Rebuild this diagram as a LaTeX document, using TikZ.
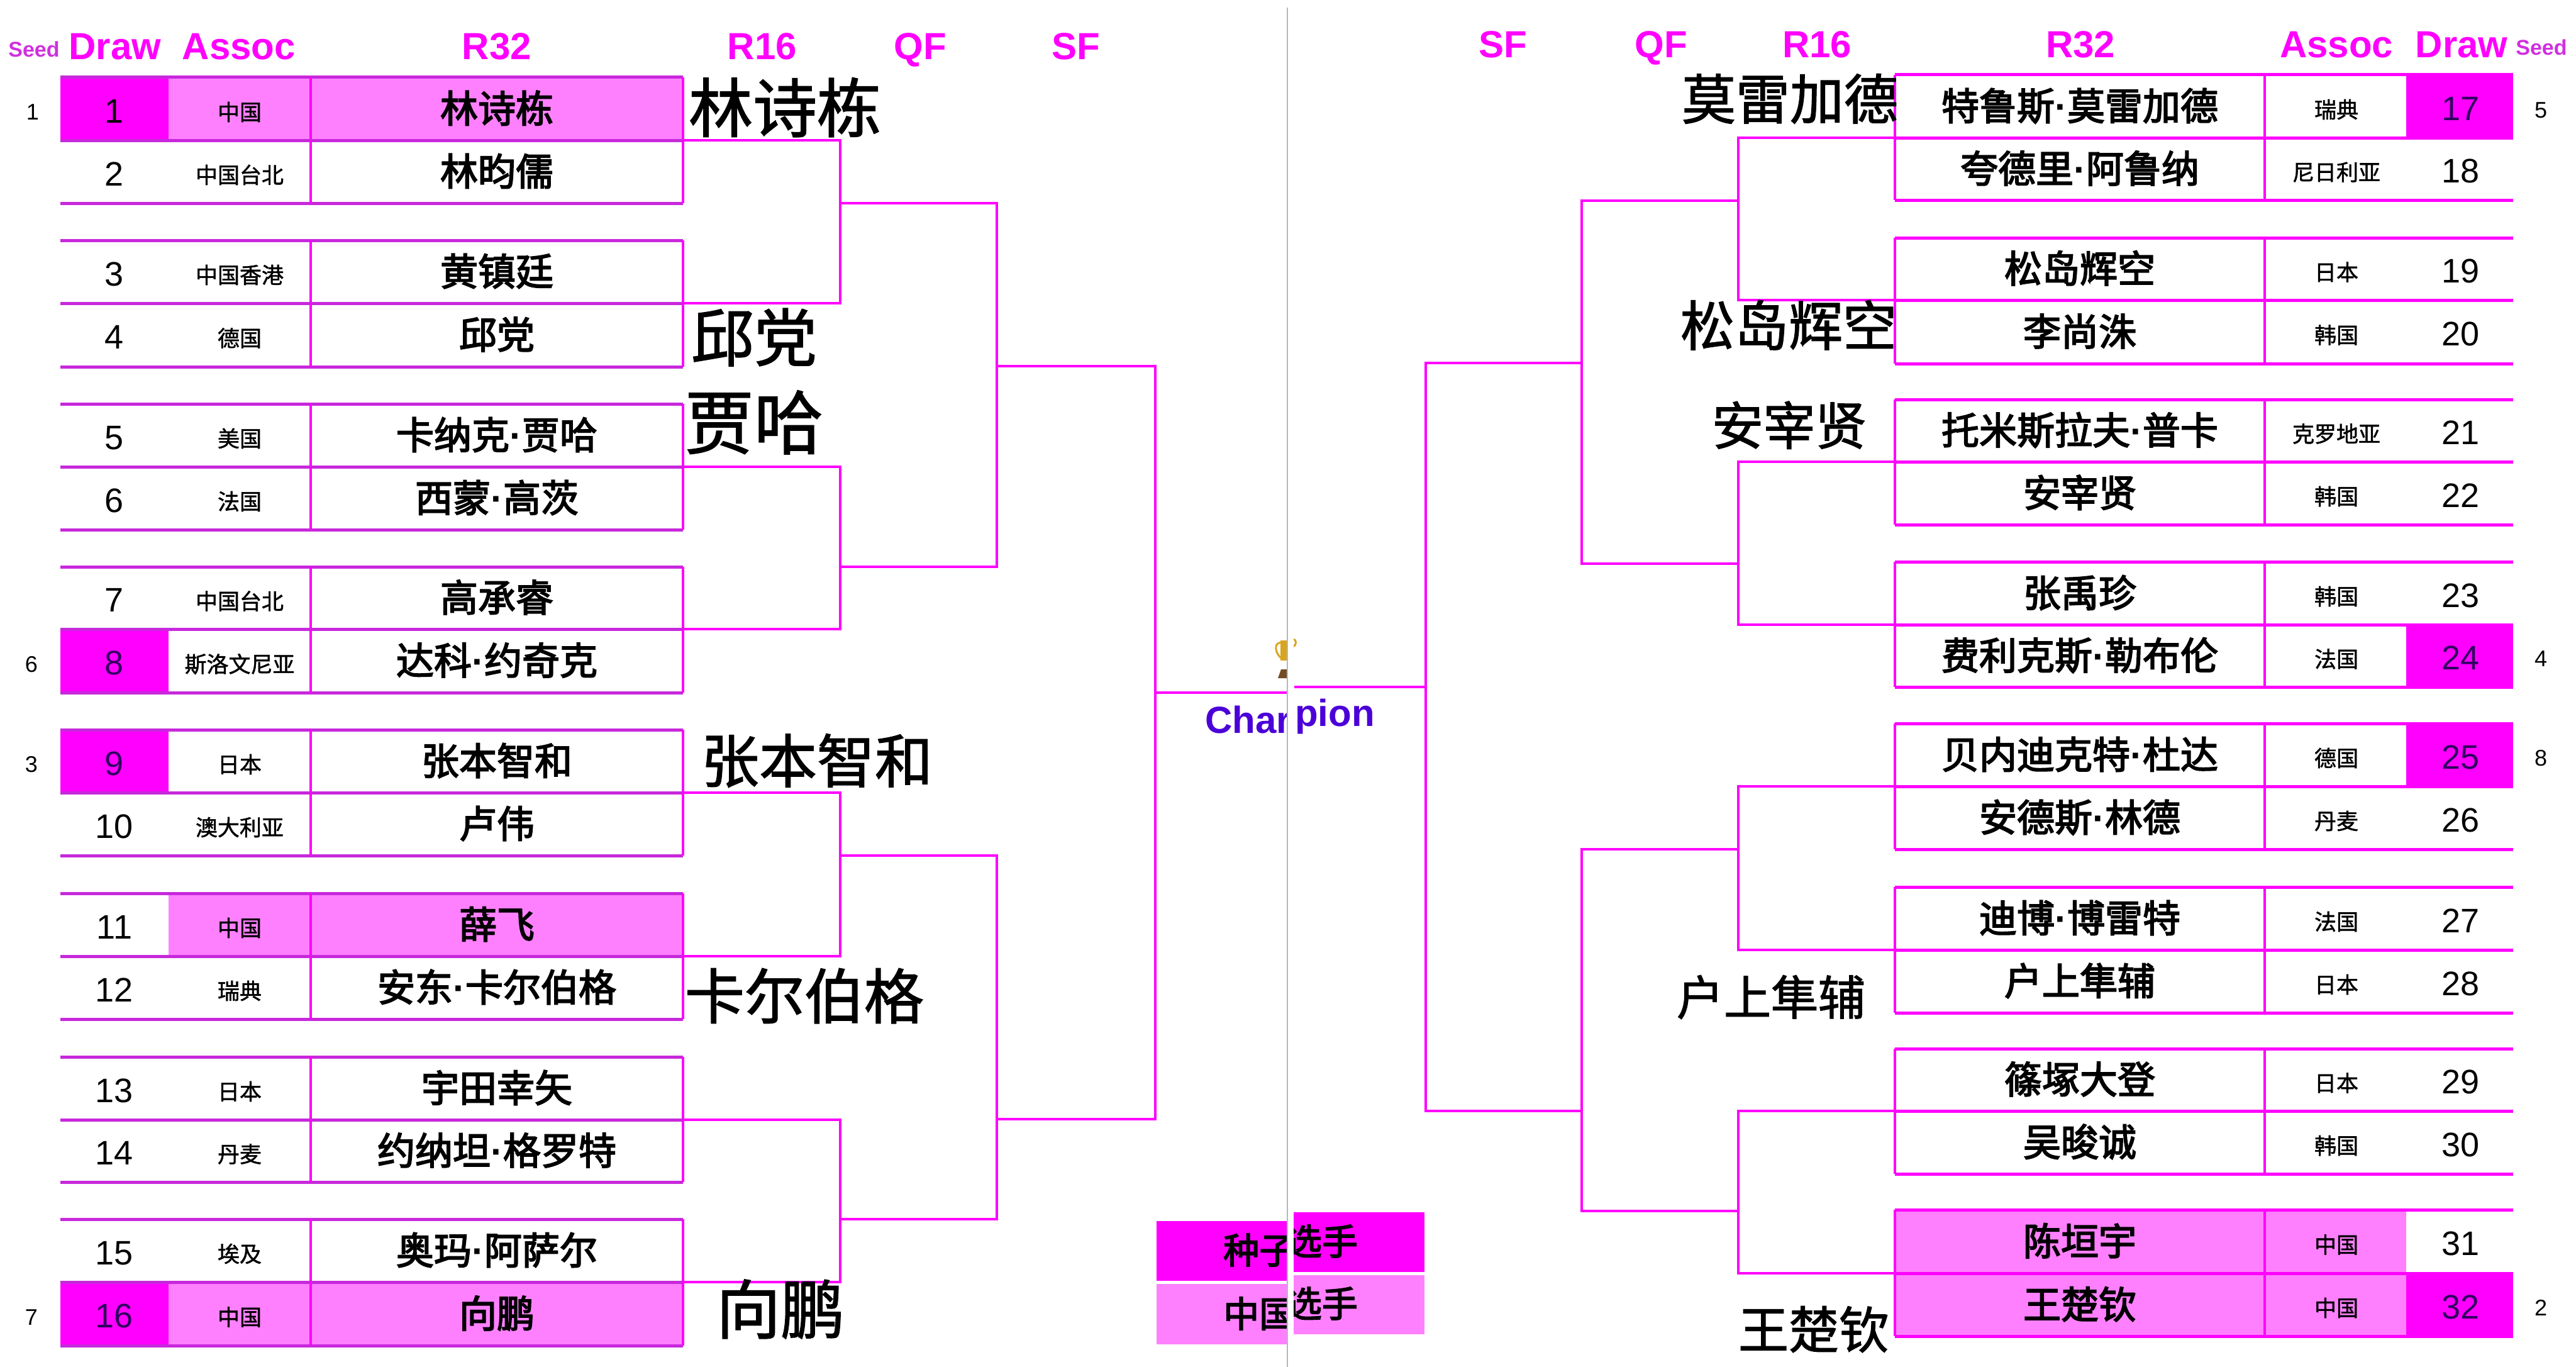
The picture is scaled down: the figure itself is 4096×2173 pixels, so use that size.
\documentclass[tikz,border=0pt]{standalone}
\usepackage{fontspec}
\setmainfont{Liberation Sans}
\newfontfamily\cjkn[FakeBold=3.0]{Noto Sans CJK SC}
\newfontfamily\cjkb[FakeBold=1.5]{Noto Sans CJK SC}
\newfontfamily\cjka[FakeBold=1.5]{Noto Sans CJK SC}
\newcommand{\mdt}{{\rmfamily\bfseries ·}}
\definecolor{mg}{HTML}{FF00FF}
\definecolor{lt}{HTML}{FF80FF}
\definecolor{lnl}{HTML}{C828DC}
\definecolor{seedc}{HTML}{D030E0}
\definecolor{champ}{HTML}{4B00D8}
\definecolor{numd}{HTML}{300060}
\definecolor{divc}{HTML}{B0B8C4}
\definecolor{gold}{HTML}{D9A520}
\tikzset{
 cell/.style={inner sep=0pt,outer sep=0pt,draw=none},
 hdr/.style={inner sep=0pt,text=mg,font=\bfseries\fontsize{60}{60}\selectfont,text height=43pt,text depth=0pt},
 hdrs/.style={inner sep=0pt,text=seedc,font=\bfseries\fontsize{34}{34}\selectfont,text height=25pt,text depth=0pt},
 nametxt/.style={inner sep=0pt,font=\cjkn\fontsize{60}{60}\selectfont,text height=45.6pt,text depth=0pt},
 assoctxt/.style={inner sep=0pt,font=\cjka\fontsize{35}{35}\selectfont,text height=26.6pt,text depth=0pt},
 numtxt/.style={inner sep=0pt,font=\fontsize{54}{54}\selectfont,text height=38.7pt,text depth=0pt},
 seedtxt/.style={inner sep=0pt,font=\fontsize{36}{36}\selectfont,text height=25.8pt,text depth=0pt},
 bigtxt/.style={inner sep=0pt,font=\cjkb\fontsize{#1}{#1}\selectfont,text height=#1*0.76pt,text depth=0pt},
 legtxt/.style={inner sep=0pt,font=\cjkn\fontsize{57}{57}\selectfont,text height=43.3pt,text depth=0pt},
 champtxt/.style={inner sep=0pt,text=champ,font=\bfseries\fontsize{60}{60}\selectfont,text height=43pt,text depth=0pt},
 hlinel/.style={draw=lnl,line width=5pt},
 hliner/.style={draw=mg,line width=5pt},
 vline/.style={draw=mg,line width=4pt},
 conn/.style={draw=mg,line width=4.5pt,line join=miter},
}
% id, top, bottom, number, assoc, name, draw fill, assoc/name fill
\newcommand{\lrow}[8]{%
 \pgfmathsetmacro\ymid{(#2+#3)/2}\pgfmathsetmacro\yh{#3-#2}%
 \node[cell,fill=#7,minimum width=172pt,minimum height=\yh pt] (d#1) at (182,\ymid) {};
 \node[cell,fill=#8,minimum width=226pt,minimum height=\yh pt] (a#1) at (381,\ymid) {};
 \node[cell,fill=#8,minimum width=592pt,minimum height=\yh pt] (n#1) at (790,\ymid) {};
 \node[numtxt] (dt#1) at (182,\ymid+3) {#4};
 \node[assoctxt] (at#1) at (381,\ymid+5) {#5};
 \node[nametxt] (nt#1) at (790,\ymid-1) {#6};
}
\newcommand{\rrow}[8]{%
 \pgfmathsetmacro\ymid{(#2+#3)/2}\pgfmathsetmacro\yh{#3-#2}%
 \node[cell,fill=#8,minimum width=588pt,minimum height=\yh pt] (n#1) at (3307,\ymid) {};
 \node[cell,fill=#8,minimum width=225pt,minimum height=\yh pt] (a#1) at (3713.5,\ymid) {};
 \node[cell,fill=#7,minimum width=170pt,minimum height=\yh pt] (d#1) at (3911,\ymid) {};
 \node[numtxt] (dt#1) at (3912,\ymid+3) {#4};
 \node[assoctxt] (at#1) at (3715,\ymid+5) {#5};
 \node[nametxt] (nt#1) at (3307,\ymid-1) {#6};
}
\begin{document}
\begin{tikzpicture}[x=1pt,y=-1pt]
\useasboundingbox (0,0) rectangle (4096,2173);
\fill[white] (0,0) rectangle (4096,2173);
% headers
\node[hdrs] (hs1) at (54,78) {Seed};
\node[hdr] (hd1) at (183,73) {Draw};
\node[hdr] (ha1) at (380,73) {Assoc};
\node[hdr] (hr1) at (790,73) {R32};
\node[hdr] (h161) at (1212,73) {R16};
\node[hdr] (hq1) at (1463,73) {QF};
\node[hdr] (hf1) at (1711,73) {SF};
\node[hdr] (hf2) at (2390,70) {SF};
\node[hdr] (hq2) at (2641,70) {QF};
\node[hdr] (h162) at (2889,70) {R16};
\node[hdr] (hr2) at (3308,70) {R32};
\node[hdr] (ha2) at (3715,70) {Assoc};
\node[hdr] (hd2) at (3914,70) {Draw};
\node[hdrs] (hs2) at (4041,75) {Seed};
% left rows
\lrow{1}{123}{223}{1}{中国}{林诗栋}{mg}{lt}
\lrow{2}{223}{323}{2}{中国台北}{林昀儒}{none}{none}
\lrow{3}{382}{482}{3}{中国香港}{黄镇廷}{none}{none}
\lrow{4}{482}{583}{4}{德国}{邱党}{none}{none}
\lrow{5}{642}{742}{5}{美国}{卡纳克\mdt 贾哈}{none}{none}
\lrow{6}{742}{842}{6}{法国}{西蒙\mdt 高茨}{none}{none}
\lrow{7}{901}{1000}{7}{中国台北}{高承睿}{none}{none}
\lrow{8}{1000}{1101}{\textcolor{numd}{8}}{斯洛文尼亚}{达科\mdt 约奇克}{mg}{none}
\lrow{9}{1160}{1260}{\textcolor{numd}{9}}{日本}{张本智和}{mg}{none}
\lrow{10}{1260}{1360}{10}{澳大利亚}{卢伟}{none}{none}
\lrow{11}{1420}{1520}{11}{中国}{薛飞}{none}{lt}
\lrow{12}{1520}{1620}{12}{瑞典}{安东\mdt 卡尔伯格}{none}{none}
\lrow{13}{1680}{1780}{13}{日本}{宇田幸矢}{none}{none}
\lrow{14}{1780}{1879}{14}{丹麦}{约纳坦\mdt 格罗特}{none}{none}
\lrow{15}{1938}{2038}{15}{埃及}{奥玛\mdt 阿萨尔}{none}{none}
\lrow{16}{2038}{2139}{\textcolor{numd}{16}}{中国}{向鹏}{mg}{lt}
% right rows
\rrow{17}{119}{219}{\textcolor{numd}{17}}{瑞典}{特鲁斯\mdt 莫雷加德}{mg}{none}
\rrow{18}{219}{318}{18}{尼日利亚}{夸德里\mdt 阿鲁纳}{none}{none}
\rrow{19}{378}{477}{19}{日本}{松岛辉空}{none}{none}
\rrow{20}{477}{578}{20}{韩国}{李尚洙}{none}{none}
\rrow{21}{635}{734}{21}{克罗地亚}{托米斯拉夫\mdt 普卡}{none}{none}
\rrow{22}{734}{834}{22}{韩国}{安宰贤}{none}{none}
\rrow{23}{893}{993}{23}{韩国}{张禹珍}{none}{none}
\rrow{24}{993}{1092}{\textcolor{numd}{24}}{法国}{费利克斯\mdt 勒布伦}{mg}{none}
\rrow{25}{1150}{1250}{\textcolor{numd}{25}}{德国}{贝内迪克特\mdt 杜达}{mg}{none}
\rrow{26}{1250}{1350}{26}{丹麦}{安德斯\mdt 林德}{none}{none}
\rrow{27}{1410}{1510}{27}{法国}{迪博\mdt 博雷特}{none}{none}
\rrow{28}{1510}{1610}{28}{日本}{户上隼辅}{none}{none}
\rrow{29}{1667}{1766}{29}{日本}{篠塚大登}{none}{none}
\rrow{30}{1766}{1866}{30}{韩国}{吴晙诚}{none}{none}
\rrow{31}{1923}{2024}{31}{中国}{陈垣宇}{none}{lt}
\rrow{32}{2024}{2124}{\textcolor{numd}{32}}{中国}{王楚钦}{mg}{lt}
% table lines
\foreach \i in {1,...,16}{
 \draw[hlinel] (d\i.north west) -- (n\i.north east);
 \draw[hlinel] (d\i.south west) -- (n\i.south east);
 \draw[vline] (a\i.north east) -- (a\i.south east);
 \draw[vline] (n\i.north east) -- (n\i.south east);
}
\foreach \i in {17,...,32}{
 \draw[hliner] (n\i.north west) -- (d\i.north east);
 \draw[hliner] (n\i.south west) -- (d\i.south east);
 \draw[vline] (n\i.north west) -- (n\i.south west);
 \draw[vline] (n\i.north east) -- (n\i.south east);
}
% seeds
\node[seedtxt] (s1) at (52,178) {1};
\node[seedtxt] (s8) at (50,1056) {6};
\node[seedtxt] (s9) at (50,1215) {3};
\node[seedtxt] (s16) at (50,2094) {7};
\node[seedtxt] (s17) at (4040,175) {5};
\node[seedtxt] (s24) at (4040,1047) {4};
\node[seedtxt] (s25) at (4040,1205) {8};
\node[seedtxt] (s32) at (4040,2079) {2};
% left bracket
\coordinate (q1) at (1336,323);
\coordinate (q2) at (1336,901);
\coordinate (q3) at (1336,1360);
\coordinate (q4) at (1336,1938);
\coordinate (k1) at (1585,582);
\coordinate (k2) at (1585,1779);
\coordinate (f1) at (1837,1101);
\coordinate (cL) at (2047,1101);
\draw[conn] (n1.south east) -| (q1) |- (n3.south east);
\draw[conn] (n5.south east) -| (q2) |- (n7.south east);
\draw[conn] (n9.south east) -| (q3) |- (n11.south east);
\draw[conn] (n13.south east) -| (q4) |- (n15.south east);
\draw[conn] (q1) -| (k1) |- (q2);
\draw[conn] (q3) -| (k2) |- (q4);
\draw[conn] (k1) -| (f1) |- (k2);
\draw[conn] (f1) -- (cL);
% right bracket
\coordinate (Q1) at (2764,319);
\coordinate (Q2) at (2764,896);
\coordinate (Q3) at (2764,1350);
\coordinate (Q4) at (2764,1925);
\coordinate (K1) at (2515,577);
\coordinate (K2) at (2515,1766);
\coordinate (F1) at (2267,1092);
\coordinate (cR) at (2058,1092);
\draw[conn] (n17.south west) -| (Q1) |- (n19.south west);
\draw[conn] (n21.south west) -| (Q2) |- (n23.south west);
\draw[conn] (n25.south west) -| (Q3) |- (n27.south west);
\draw[conn] (n29.south west) -| (Q4) |- (n31.south west);
\draw[conn] (Q1) -| (K1) |- (Q2);
\draw[conn] (Q3) -| (K2) |- (Q4);
\draw[conn] (K1) -| (F1) |- (K2);
\draw[conn] (F1) -- (cR);
% big labels
\node[bigtxt=102] (b1) at (1248,171) {林诗栋};
\node[bigtxt=100] (b2) at (1199,536) {邱党};
\node[bigtxt=110] (b3) at (1199,671) {贾哈};
\node[bigtxt=92] (b4) at (1299,1209) {张本智和};
\node[bigtxt=95] (b5) at (1279,1583) {卡尔伯格};
\node[bigtxt=102] (b6) at (1241,2081) {向鹏};
\node[bigtxt=86] (b7) at (2846,157) {莫雷加德};
\node[bigtxt=86] (b8) at (2844,517) {松岛辉空};
\node[bigtxt=82] (b9) at (2845,676) {安宰贤};
\node[bigtxt=75] (b10) at (2816,1585) {户上隼辅};
\node[bigtxt=80] (b11) at (2884,2113) {王楚钦};
% legend
\node[cell,fill=mg,minimum width=208pt,minimum height=95pt] (lg1) at (1943,1988.5) {};
\node[cell,fill=lt,minimum width=208pt,minimum height=96pt] (lg2) at (1943,2089) {};
\node[cell,fill=mg,minimum width=208pt,minimum height=95pt] (lg3) at (2161,1974.5) {};
\node[cell,fill=lt,minimum width=208pt,minimum height=94pt] (lg4) at (2161,2074) {};
\begin{scope}
 \clip (1800,900) rectangle (2047,2173);
 \node[legtxt,anchor=west] (lt1) at (1945,1987) {种子};
 \node[legtxt,anchor=west] (lt2) at (1945,2088) {中国};
 \node[champtxt,anchor=west] (ch1) at (1916,1144) {Char};
 \draw[gold,line width=3pt] (2040,1022) .. controls (2024,1018) and (2026,1040) .. (2040,1048);
 \fill[gold] (2036,1018) rectangle (2048,1050);
 \fill[brown!60!black] (2037,1064) -- (2048,1064) -- (2048,1078) -- (2032,1078) -- cycle;
\end{scope}
\begin{scope}
 \clip (2057,900) rectangle (2300,2173);
 \node[legtxt,anchor=east] (lt3) at (2159,1973) {选手};
 \node[legtxt,anchor=east] (lt4) at (2159,2072) {选手};
 \node[champtxt,anchor=west] (ch2) at (2059,1133) {pion};
 \draw[gold,line width=3pt] (2056,1016) .. controls (2062,1016) and (2062,1026) .. (2056,1028);
\end{scope}
% divider
\coordinate (dv1) at (2047,12);
\coordinate (dv2) at (2047,2173);
\draw[divc,line width=2pt] (dv1) -- (dv2);
\end{tikzpicture}
\end{document}
